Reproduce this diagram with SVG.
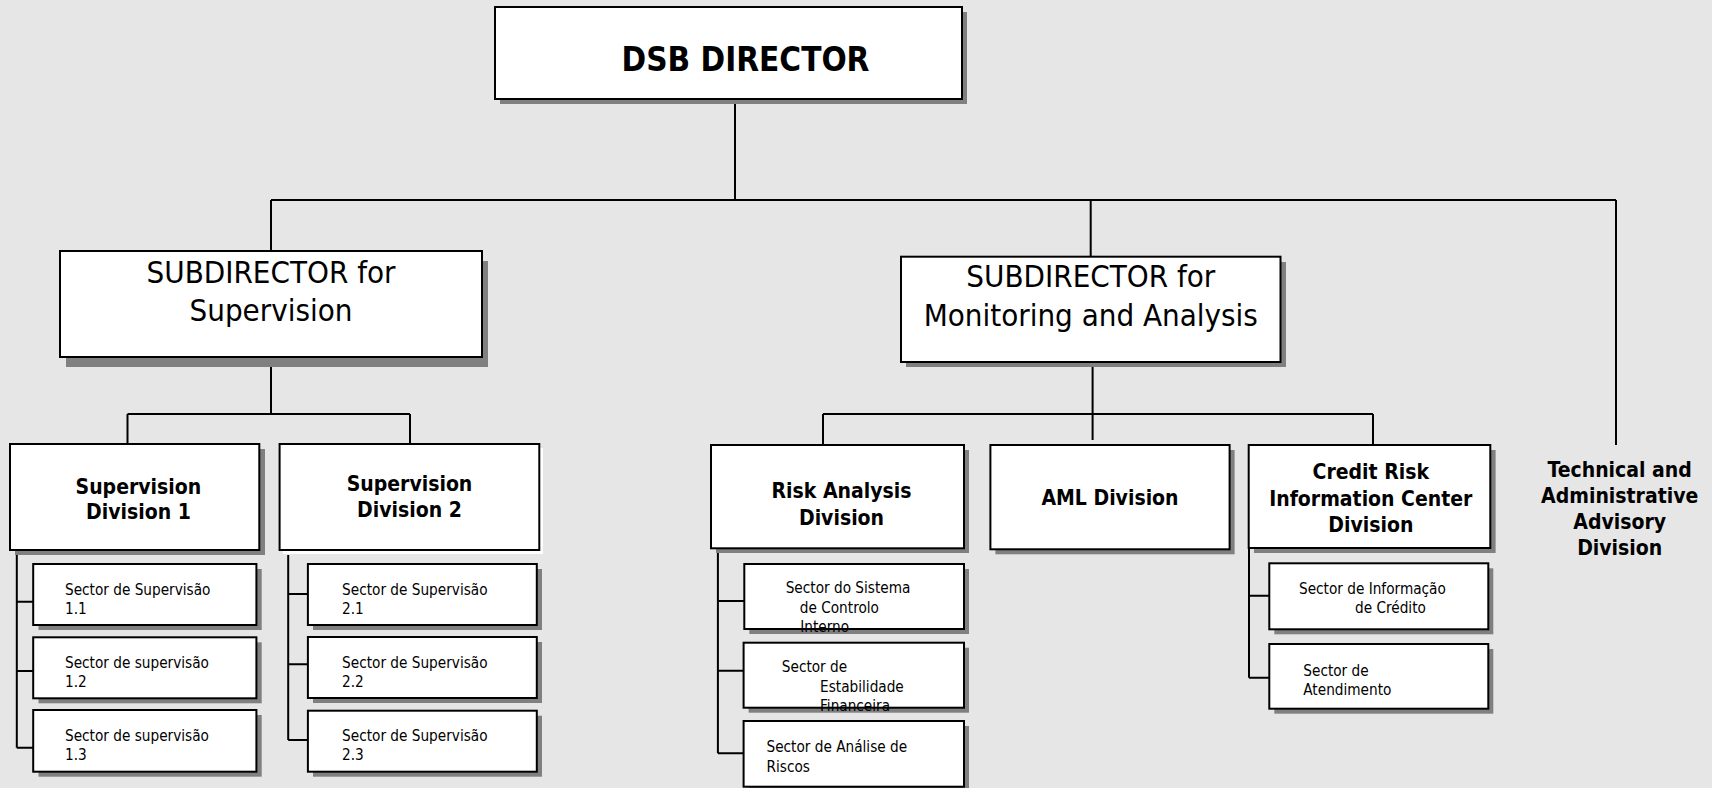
<svg xmlns="http://www.w3.org/2000/svg" width="1712" height="788" viewBox="0 0 1712 788">
<style>
text{font-family:'DejaVu Sans Condensed','DejaVu Sans',sans-serif;font-stretch:condensed;fill:#000}
.box{fill:#fff;stroke:#000;stroke-width:2}
.sh{fill:#808080}
.shw{fill:#fff}
.ln{stroke:#000;stroke-width:2;fill:none}
.t1{font-size:33px;font-weight:bold;text-anchor:middle}
.t2{font-size:31px;text-anchor:middle}
.t3{font-size:21px;font-weight:bold;text-anchor:middle}
.t4{font-size:15.2px}
</style>
<rect width="1712" height="788" fill="#e6e6e6"/>
<g id="connectors">
<path class="ln" d="M735 99V200M271 200H1616M271 200V251M1090.7 200V256.7M1616 200V445"/>
<path class="ln" d="M271 357V414M127.5 414H410M127.5 414V444M410 414V445"/>
<path class="ln" d="M1092.6 362V440M823 414H1373M823 414V445M1373 414V445"/>
<path class="ln" d="M16.8 550V747.7M16.8 601.7H33M16.8 671H33M16.8 747.7H33"/>
<path class="ln" d="M288.2 555V740M288.2 594H308M288.2 664.3H308M288.2 740H308"/>
<path class="ln" d="M717.9 548V753.3M717.9 601H744M717.9 670.7H744M717.9 753.3H744"/>
<path class="ln" d="M1249 548V677.7M1249 595.7H1269M1249 677.7H1269"/>
</g>
<g id="dsb-director">
<rect class="sh" x="500" y="12" width="467" height="92"/>
<rect class="box" x="495" y="7" width="467" height="92"/>
<text class="t1" x="745.5" y="71">DSB DIRECTOR</text>
</g>
<g id="subdirector-supervision">
<rect class="sh" x="66" y="261" width="422" height="106"/>
<rect class="box" x="60" y="251" width="422" height="106"/>
<text class="t2" x="271" y="282.7">SUBDIRECTOR for</text>
<text class="t2" x="271" y="321">Supervision</text>
</g>
<g id="subdirector-monitoring">
<rect class="sh" x="906" y="262" width="380" height="105"/>
<rect class="box" x="901" y="256.7" width="379.5" height="105.3"/>
<text class="t2" x="1090.8" y="286.7">SUBDIRECTOR for</text>
<text class="t2" x="1090.8" y="326">Monitoring and Analysis</text>
</g>
<g id="supervision-division-1">
<rect class="sh" x="15" y="449" width="250" height="106"/>
<rect class="box" x="10" y="444" width="249.3" height="106"/>
<text class="t3" x="138.4" y="494">Supervision</text>
<text class="t3" x="138.4" y="519">Division 1</text>
</g>
<g id="supervision-division-2">
<rect class="shw" x="283" y="448" width="260" height="106"/>
<rect class="box" x="279.6" y="444" width="259.7" height="106"/>
<text class="t3" x="409.5" y="490.7">Supervision</text>
<text class="t3" x="409.5" y="517">Division 2</text>
</g>
<g id="risk-analysis-division">
<rect class="sh" x="716" y="450" width="253" height="103"/>
<rect class="box" x="711" y="445" width="253" height="103.3"/>
<text class="t3" x="841.5" y="498.3">Risk Analysis</text>
<text class="t3" x="841.5" y="525">Division</text>
</g>
<g id="aml-division">
<rect class="sh" x="995.4" y="450" width="239.2" height="104.3"/>
<rect class="box" x="990.4" y="445" width="239.2" height="104.3"/>
<text class="t3" x="1110" y="505">AML Division</text>
</g>
<g id="credit-risk-division">
<rect class="sh" x="1254" y="450" width="241.6" height="103"/>
<rect class="box" x="1248.7" y="445" width="241.6" height="103"/>
<text class="t3" x="1370.8" y="479">Credit Risk</text>
<text class="t3" x="1370.8" y="506">Information Center</text>
<text class="t3" x="1370.8" y="531.7">Division</text>
</g>
<g id="technical-advisory-division">
<text class="t3" x="1619.7" y="477.3">Technical and</text>
<text class="t3" x="1619.7" y="502.7">Administrative</text>
<text class="t3" x="1619.7" y="529">Advisory</text>
<text class="t3" x="1619.7" y="555">Division</text>
</g>
<g id="sector-1-1">
<rect class="sh" x="38.5" y="569" width="223.2" height="61"/>
<rect class="box" x="33.2" y="564" width="223.2" height="61"/>
<text class="t4" x="65" y="595">Sector de Supervisão</text>
<text class="t4" x="65" y="614">1.1</text>
</g>
<g id="sector-1-2">
<rect class="sh" x="38.5" y="642.3" width="223.2" height="61"/>
<rect class="box" x="33.2" y="637.3" width="223.2" height="61"/>
<text class="t4" x="65" y="668.3">Sector de supervisão</text>
<text class="t4" x="65" y="686.7">1.2</text>
</g>
<g id="sector-1-3">
<rect class="sh" x="38.5" y="715" width="223.2" height="61.7"/>
<rect class="box" x="33.2" y="710" width="223.2" height="61.7"/>
<text class="t4" x="65" y="741">Sector de supervisão</text>
<text class="t4" x="65" y="760">1.3</text>
</g>
<g id="sector-2-1">
<rect class="sh" x="313" y="569" width="229" height="61"/>
<rect class="box" x="307.9" y="564" width="228.9" height="61"/>
<text class="t4" x="342.1" y="595">Sector de Supervisão</text>
<text class="t4" x="342.1" y="614">2.1</text>
</g>
<g id="sector-2-2">
<rect class="sh" x="313" y="642" width="229" height="61"/>
<rect class="box" x="307.9" y="637" width="228.9" height="61"/>
<text class="t4" x="342.1" y="668.3">Sector de Supervisão</text>
<text class="t4" x="342.1" y="686.7">2.2</text>
</g>
<g id="sector-2-3">
<rect class="sh" x="313" y="715.7" width="229" height="61"/>
<rect class="box" x="307.9" y="710.7" width="228.9" height="61"/>
<text class="t4" x="342.1" y="741">Sector de Supervisão</text>
<text class="t4" x="342.1" y="760">2.3</text>
</g>
<g id="sector-controlo-interno">
<rect class="sh" x="749.3" y="569" width="219.7" height="65"/>
<rect class="box" x="744.3" y="564" width="219.7" height="65"/>
<text class="t4" x="785.7" y="593.3">Sector do Sistema</text>
<text class="t4" x="799.8" y="613.3">de Controlo</text>
<text class="t4" x="800.2" y="631.7">Interno</text>
</g>
<g id="sector-estabilidade">
<rect class="sh" x="748.6" y="647.7" width="220.4" height="65"/>
<rect class="box" x="743.6" y="642.7" width="220.4" height="65"/>
<text class="t4" x="781.8" y="672.3">Sector de</text>
<text class="t4" x="820.1" y="692.3">Estabilidade</text>
<text class="t4" x="820.1" y="711">Financeira</text>
</g>
<g id="sector-analise-riscos">
<rect class="sh" x="748.6" y="726" width="220.4" height="65.7"/>
<rect class="box" x="743.6" y="721" width="220.4" height="65.7"/>
<text class="t4" x="766.5" y="752.3">Sector de Análise de</text>
<text class="t4" x="766.5" y="772.3">Riscos</text>
</g>
<g id="sector-informacao-credito">
<rect class="sh" x="1274.3" y="568.3" width="219" height="66"/>
<rect class="box" x="1269.3" y="563.3" width="219" height="66"/>
<text class="t4" x="1299" y="594">Sector de Informação</text>
<text class="t4" x="1355" y="612.7">de Crédito</text>
</g>
<g id="sector-atendimento">
<rect class="sh" x="1274.3" y="649" width="219" height="64.7"/>
<rect class="box" x="1269.3" y="644" width="219" height="64.7"/>
<text class="t4" x="1303.3" y="676">Sector de</text>
<text class="t4" x="1303.3" y="695">Atendimento</text>
</g>
</svg>
